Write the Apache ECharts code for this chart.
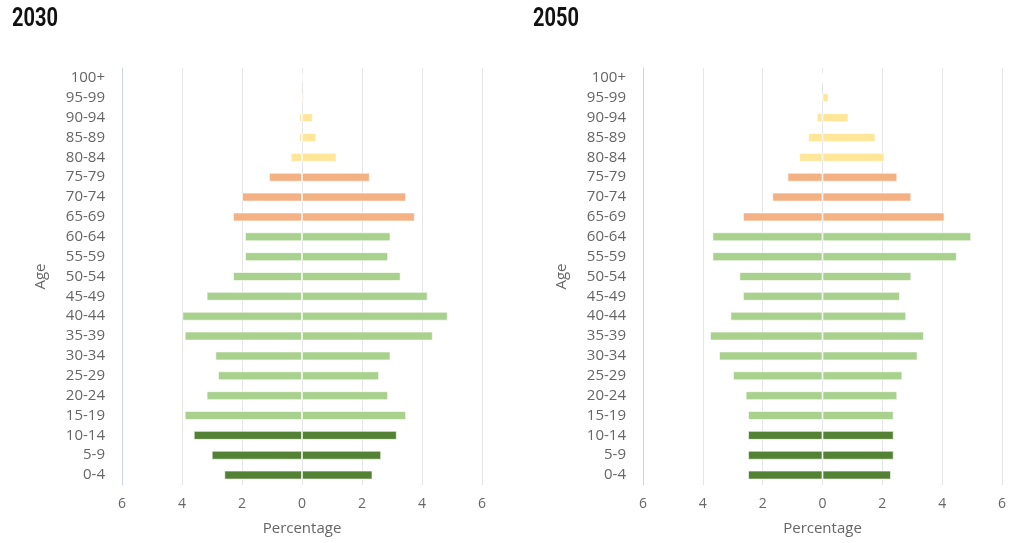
<!DOCTYPE html>
<html><head><meta charset="utf-8">
<script src="https://cdn.jsdelivr.net/npm/echarts@6/dist/echarts.min.js"></script>
<style>html,body{margin:0;padding:0;background:#fff}#c{width:1024px;height:543px}</style>
</head><body><div id="c"></div>
<script>
const ages = ['0-4','5-9','10-14','15-19','20-24','25-29','30-34','35-39','40-44','45-49','50-54','55-59','60-64','65-69','70-74','75-79','80-84','85-89','90-94','95-99','100+'];
const titles = ['2030','2050'];
const left2030  = [2.59,3.01,3.61,3.91,3.18,2.80,2.89,3.91,3.99,3.18,2.30,1.90,1.90,2.30,2.00,1.10,0.38,0.09,0.09,0.03,0];
const right2030 = [2.35,2.64,3.16,3.47,2.87,2.57,2.95,4.36,4.86,4.19,3.29,2.87,2.95,3.76,3.47,2.26,1.15,0.48,0.36,0.07,0];
const left2050  = [2.49,2.49,2.49,2.49,2.57,2.99,3.46,3.76,3.08,2.66,2.78,3.68,3.68,2.66,1.68,1.17,0.78,0.48,0.19,0.03,0];
const right2050 = [2.29,2.38,2.38,2.38,2.50,2.67,3.18,3.39,2.80,2.59,2.97,4.49,4.97,4.08,2.97,2.50,2.07,1.77,0.87,0.20,0];
const xTicks = {min:-6, max:6, interval:2};

function colorFor(i){
  if(i<=2) return '#548235';
  if(i<=12) return '#A9D18E';
  if(i<=15) return '#F4B183';
  return '#FFE699';
}
const font = 'Open Sans';
const grids = [{left:122, width:360, top:68, height:417},{left:643, width:359, top:68, height:417}];
const chart = echarts.init(document.getElementById('c'));
const xAxes = [], yAxes = [], series = [];
[[left2030,right2030],[left2050,right2050]].forEach((pair,g)=>{
  xAxes.push({type:'value', gridIndex:g, min:xTicks.min, max:xTicks.max, interval:xTicks.interval,
    name:'Percentage', nameLocation:'middle', nameGap:36,
    nameTextStyle:{color:'#666', fontSize:15, fontFamily:font},
    axisLine:{show:false}, axisTick:{show:false},
    axisLabel:{color:'#666', fontSize:14, fontFamily:font, margin:12, formatter:v=>Math.abs(v)},
    splitLine:{show:true, lineStyle:{color:'#e6e6e6', width:1}}});
  yAxes.push({type:'category', gridIndex:g, data:ages,
    name:'Age', nameLocation:'middle', nameGap:74, nameRotate:90,
    nameTextStyle:{color:'#666', fontSize:15, fontFamily:font},
    axisLine:{show:true, onZero:false, lineStyle:{color:'#ccd6eb'}}, axisTick:{show:false},
    axisLabel:{color:'#666', fontSize:15, fontFamily:font, margin:17},
    splitLine:{show:false}});
  const style = {color:p=>colorFor(p.dataIndex), borderColor:'rgba(255,255,255,0.6)', borderWidth:1};
  series.push({type:'bar', xAxisIndex:g, yAxisIndex:g, stack:'s'+g, barWidth:9,
    data:pair[0].map(v=>-v), itemStyle:style, silent:true});
  series.push({type:'bar', xAxisIndex:g, yAxisIndex:g, stack:'s'+g, barWidth:9,
    data:pair[1], itemStyle:style, silent:true});
});
chart.setOption({
  animation:false,
  graphic: titles.map((t,i)=>({type:'text', x: i===0?12:533, y:7, scaleX:0.8,
    style:{text:t, font:'bold 25px Roboto', fill:'#111', align:'left', verticalAlign:'top'}})),
  grid: grids, xAxis: xAxes, yAxis: yAxes, series: series
});
</script></body></html>
